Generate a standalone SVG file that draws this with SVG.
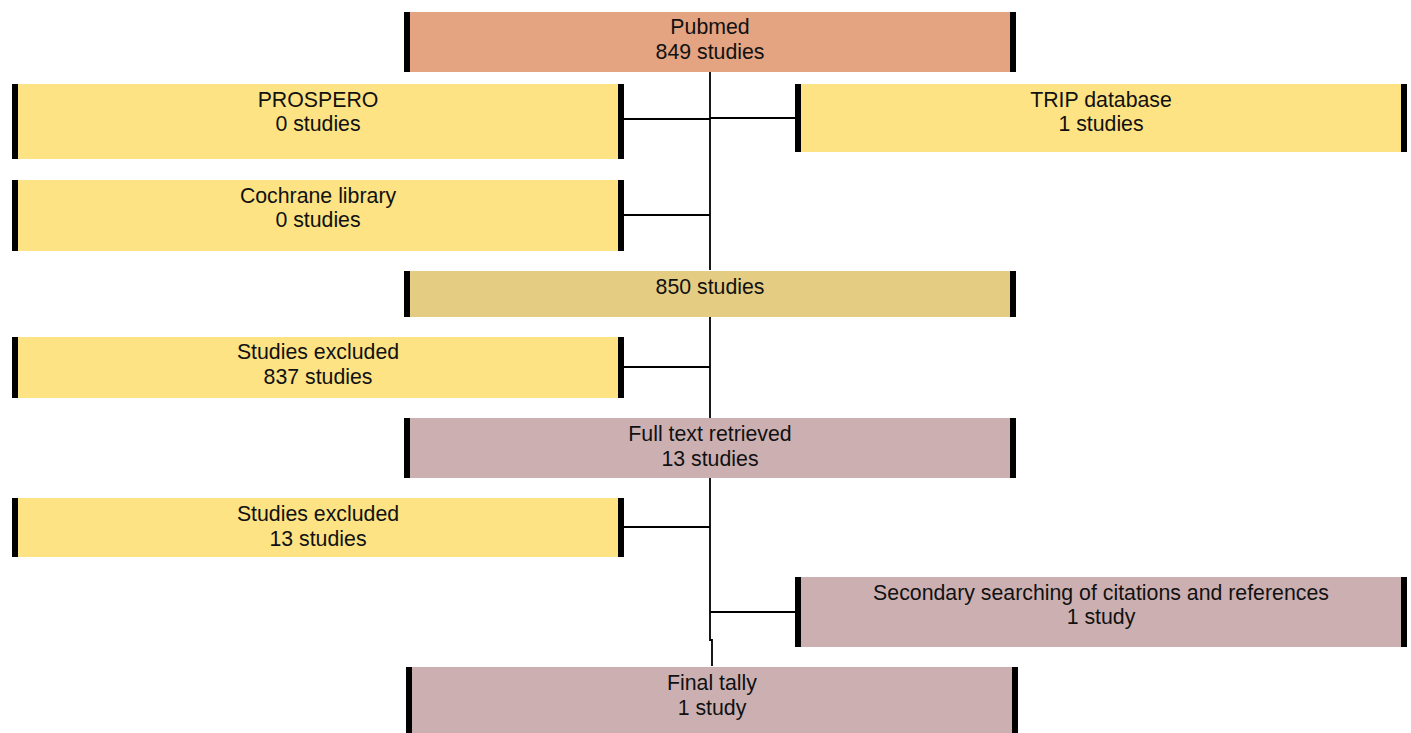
<svg xmlns="http://www.w3.org/2000/svg" width="1411" height="733" viewBox="0 0 1411 733">
<style>
.t{font-family:"Liberation Sans",Arial,sans-serif;font-size:21.3px;fill:#111;text-anchor:middle}
.bar{fill:#000}
.pub{fill:#E4A381}
.yel{fill:#FDE383}
.tan{fill:#E5CC83}
.pk{fill:#CCB0B1}
.c{stroke:#000;stroke-width:1.8;fill:none}
</style>
<rect width="1411" height="733" fill="#fff"/>
<g id="connectors">
<path class="c" d="M710 72V270M624 119H710M710 118H797M624 215H710"/>
<path class="c" d="M710 316V418M624 367H710"/>
<path class="c" d="M710 478V640H712V666M624 527H710M710 612H797"/>
</g>
<g id="pubmed"><rect class="pub" x="404" y="12" width="612" height="60"/><rect class="bar" x="404" y="12" width="6" height="60"/><rect class="bar" x="1010" y="12" width="6" height="60"/><text class="t" x="710" y="34">Pubmed</text><text class="t" x="710" y="59">849 studies</text></g>
<g id="prospero"><rect class="yel" x="12" y="84" width="612" height="75"/><rect class="bar" x="12" y="84" width="6" height="75"/><rect class="bar" x="618" y="84" width="6" height="75"/><text class="t" x="318" y="107">PROSPERO</text><text class="t" x="318" y="131">0 studies</text></g>
<g id="trip"><rect class="yel" x="795" y="84" width="612" height="68"/><rect class="bar" x="795" y="84" width="6" height="68"/><rect class="bar" x="1401" y="84" width="6" height="68"/><text class="t" x="1101" y="107">TRIP database</text><text class="t" x="1101" y="131">1 studies</text></g>
<g id="cochrane"><rect class="yel" x="12" y="180" width="612" height="71"/><rect class="bar" x="12" y="180" width="6" height="71"/><rect class="bar" x="618" y="180" width="6" height="71"/><text class="t" x="318" y="203">Cochrane library</text><text class="t" x="318" y="227">0 studies</text></g>
<g id="total850"><rect class="tan" x="404" y="271" width="612" height="46"/><rect class="bar" x="404" y="271" width="6" height="46"/><rect class="bar" x="1010" y="271" width="6" height="46"/><text class="t" x="710" y="294">850 studies</text></g>
<g id="excluded837"><rect class="yel" x="12" y="337" width="612" height="61"/><rect class="bar" x="12" y="337" width="6" height="61"/><rect class="bar" x="618" y="337" width="6" height="61"/><text class="t" x="318" y="359">Studies excluded</text><text class="t" x="318" y="384">837 studies</text></g>
<g id="fulltext"><rect class="pk" x="404" y="418" width="612" height="60"/><rect class="bar" x="404" y="418" width="6" height="60"/><rect class="bar" x="1010" y="418" width="6" height="60"/><text class="t" x="710" y="441">Full text retrieved</text><text class="t" x="710" y="466">13 studies</text></g>
<g id="excluded13"><rect class="yel" x="12" y="498" width="612" height="59"/><rect class="bar" x="12" y="498" width="6" height="59"/><rect class="bar" x="618" y="498" width="6" height="59"/><text class="t" x="318" y="521">Studies excluded</text><text class="t" x="318" y="546">13 studies</text></g>
<g id="secondary"><rect class="pk" x="795" y="577" width="612" height="70"/><rect class="bar" x="795" y="577" width="6" height="70"/><rect class="bar" x="1401" y="577" width="6" height="70"/><text class="t" x="1101" y="600">Secondary searching of citations and references</text><text class="t" x="1101" y="624">1 study</text></g>
<g id="final"><rect class="pk" x="406" y="667" width="612" height="66"/><rect class="bar" x="406" y="667" width="6" height="66"/><rect class="bar" x="1012" y="667" width="6" height="66"/><text class="t" x="712" y="690">Final tally</text><text class="t" x="712" y="715">1 study</text></g>
</svg>
